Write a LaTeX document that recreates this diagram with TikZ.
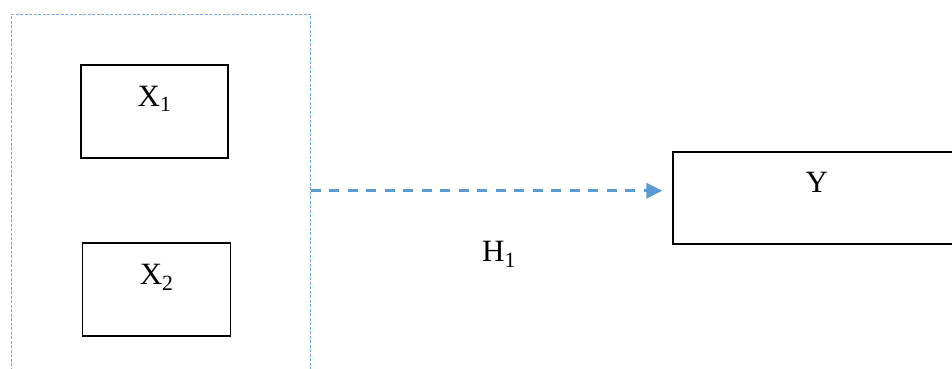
\documentclass[tikz,border=0pt]{standalone}
\usepackage{fontspec}
\setmainfont{Liberation Serif}
\usetikzlibrary{arrows.meta,positioning,calc}
\definecolor{wordblue}{HTML}{5B9BD5}
\begin{document}
\begin{tikzpicture}[x=1pt,y=-1pt,
    varbox/.style={draw=black, line width=1.5pt, inner sep=0pt},
    varlabel/.style={inner sep=0pt, anchor=base, font=\fontsize{31}{37}\selectfont},
    groupline/.style={draw=wordblue!85, line width=1.3pt, dash pattern=on 3pt off 1.5pt},
    effect/.style={draw=wordblue, line width=2.5pt, dash pattern=on 10pt off 8.5pt,
      -{Triangle[length=16pt,width=15pt]}}]
  \useasboundingbox (0,0) rectangle (952,369);

  % Group of predictors (open at the bottom)
  \draw[groupline] (11.7,375) |- (310.7,14.3) -- (310.7,375);
  \coordinate (grp) at (310.7,190.7);

  % Predictor boxes
  \node[varbox, minimum width=147pt, minimum height=93pt] (x1) at (154.6,111.4) {};
  \node[varbox, minimum width=148pt, minimum height=93pt] (x2) at (156.7,289.6) {};
  \node[varlabel] (x1t) at (154.6,106) {X\textsubscript{1}};
  \node[varlabel] (x2t) at (156.7,284.3) {X\textsubscript{2}};

  % Outcome box (right side runs off the page)
  \node[varbox, minimum width=287pt, minimum height=92pt] (y) at (816.7,198.2) {};
  \node[varlabel] (yt) at (816.7,192.7) {Y};

  % Hypothesis arrow
  \draw[effect] (grp) -- ($(grp -| y.west)+(-10,0)$);
  \node[varlabel] (h1) at (499,261.7) {H\textsubscript{1}};
\end{tikzpicture}
\end{document}
